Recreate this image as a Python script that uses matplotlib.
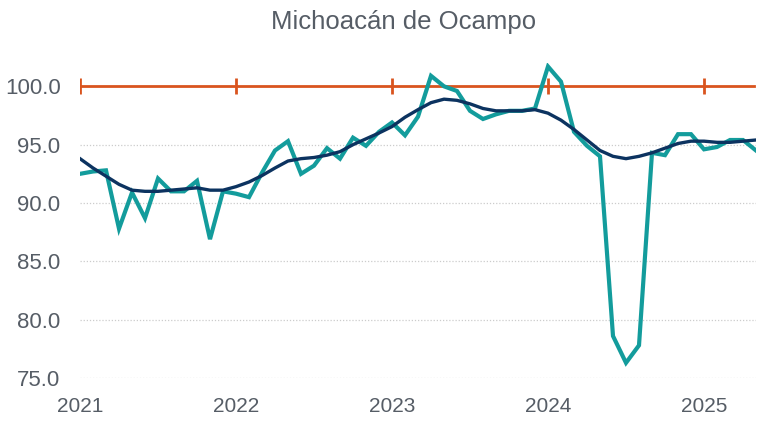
import matplotlib.pyplot as plt
import numpy as np

plt.rcParams['font.family'] = ['Liberation Sans', 'DejaVu Sans']

# monthly series, Jan 2021 .. May 2025
indice = [92.5, 92.7, 92.8, 87.8, 90.9, 88.7, 92.1, 91.0, 91.0, 91.9, 86.9, 91.0,
          90.8, 90.5, 92.6, 94.5, 95.3, 92.5, 93.2, 94.7, 93.8, 95.6, 94.9, 96.1,
          96.9, 95.8, 97.4, 100.9, 100.0, 99.6, 97.9, 97.2, 97.6, 97.9, 97.9, 98.1,
          101.7, 100.4, 96.1, 94.9, 94.0, 78.6, 76.3, 77.8, 94.3, 94.1, 95.9, 95.9,
          94.6, 94.8, 95.4, 95.4, 94.5]
tendencia = [93.8, 93.0, 92.3, 91.6, 91.1, 91.0, 91.0, 91.1, 91.2, 91.3, 91.1, 91.1,
             91.4, 91.8, 92.35, 93.0, 93.6, 93.8, 93.9, 94.1, 94.4, 95.0, 95.5, 96.0,
             96.55, 97.35, 98.0, 98.6, 98.9, 98.8, 98.5, 98.1, 97.9, 97.9, 97.9, 98.0,
             97.7, 97.1, 96.3, 95.4, 94.5, 94.0, 93.8, 94.0, 94.3, 94.7, 95.1, 95.3,
             95.3, 95.2, 95.2, 95.3, 95.4]
anios = ['2021', '2022', '2023', '2024', '2025']
referencia = 100.0

gris = '#565D66'
x = np.arange(len(indice))
pos_anios = np.arange(len(anios)) * 12

fig = plt.figure(figsize=(7.68, 4.29), dpi=100)
ax = fig.add_axes([80 / 768, 51 / 429, 676 / 768, 315 / 429])

for v in [75, 80, 85, 90, 95]:
    ax.axhline(v, color='#CCCCCC', lw=0.9, ls=(0, (1, 1.5)), zorder=0)

ax.plot([x[0], x[-1] - 0.15], [referencia, referencia], color='#D9541E', lw=2, zorder=1)
ax.plot(pos_anios, [referencia] * len(anios), ls='none', marker='|', ms=11,
        mew=2, color='#D9541E', zorder=1)

ax.plot(x, indice, color='#139C9C', lw=3, zorder=2, solid_joinstyle='miter')
ax.plot(x, tendencia, color='#0C3360', lw=2.4, zorder=3)

ax.set_xlim(0, len(indice) - 1)
ax.set_ylim(75, 102)
ax.set_yticks([75, 80, 85, 90, 95, 100])
ax.set_yticklabels(['%.1f' % v for v in [75, 80, 85, 90, 95, 100]])
ax.set_xticks(pos_anios)
ax.set_xticklabels(anios)
ax.tick_params(axis='both', length=0, labelsize=15, colors=gris)
ax.tick_params(axis='y', pad=14, labelsize=16)
ax.tick_params(axis='x', pad=14)
for s in ax.spines.values():
    s.set_visible(False)

fig.text(404 / 768, 1 - 22 / 429, 'Michoacán de Ocampo', ha='center', va='center',
         fontsize=18.5, color=gris)

fig.savefig('out.png', dpi=100)
